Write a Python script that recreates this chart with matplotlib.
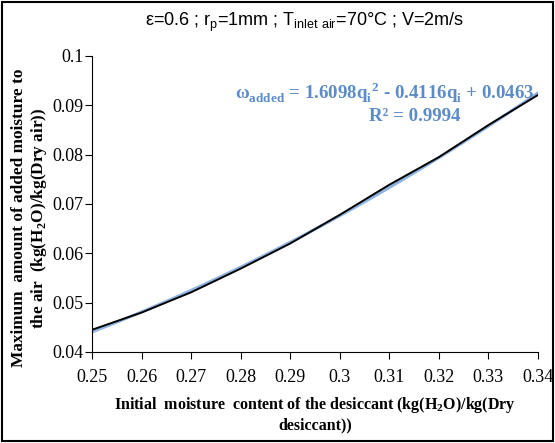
import numpy as np
import matplotlib.pyplot as plt
from matplotlib.patches import Rectangle

# initial moisture content vs max added moisture
q_i = [0.25, 0.26, 0.27, 0.28, 0.29, 0.30, 0.31, 0.32, 0.33, 0.34]
w_added = [0.0445, 0.0480, 0.0521, 0.0569, 0.0620, 0.0678, 0.0739, 0.0795, 0.0860, 0.0921]

xticks = [0.25, 0.26, 0.27, 0.28, 0.29, 0.3, 0.31, 0.32, 0.33, 0.34]
yticks = [0.04, 0.05, 0.06, 0.07, 0.08, 0.09, 0.1]

fig = plt.figure(figsize=(5.55, 4.43), dpi=100)
ax = fig.add_axes([92 / 555, 1 - 352 / 443, (538 - 92) / 555, (352 - 56) / 443])

# polynomial trendline from the data
coef = np.polyfit(q_i, w_added, 2)
xs = np.linspace(min(q_i), max(q_i), 200)
ax.plot(xs, np.polyval(coef, xs), color='#8db4e2', lw=2.2)
ax.plot(q_i, w_added, color='black', lw=1.4)

ax.set_xlim(0.25, 0.34)
ax.set_ylim(0.04, 0.1)
ax.set_xticks(xticks)
ax.set_xticklabels([f'{v:g}' for v in xticks])
ax.set_yticks(yticks)
ax.set_yticklabels([f'{v:g}' for v in yticks])
for s in ['top', 'right']:
    ax.spines[s].set_visible(False)
ax.tick_params(direction='out', length=5, labelsize=13)
ax.tick_params(axis='x', pad=7)
ax.tick_params(axis='y', pad=1)
for lab in ax.get_xticklabels() + ax.get_yticklabels():
    lab.set_family('Liberation Serif')

ax.set_xlabel('Initial  moisture  content of the desiccant (kg(H$_\\mathregular{2}$O)/kg(Dry\ndesiccant))',
              family='Liberation Serif', fontweight='bold', fontsize=11.5, labelpad=7)
fig.text(30 / 555, 1 - 218 / 443,
         'Maximum  amount of added moisture to\nthe air  (kg(H$_\\mathregular{2}$O)/kg(Dry air))',
         rotation=90, ha='center', va='center', multialignment='center',
         family='Liberation Serif', fontweight='bold', fontsize=12.4)

fig.text(305 / 555, 1 - 22 / 443,
         r'ε=0.6 ; r$_\mathregular{p}$=1mm ; T$_\mathregular{inlet\ air}$=70°C ; V=2m/s',
         ha='center', va='center', fontsize=13, family='Liberation Sans')

blue = '#5b8bc9'
ax.text(0.657, 0.875, r'ω$_\mathregular{added}$ = 1.6098q$_\mathregular{i}$$^\mathregular{2}$ - 0.4116q$_\mathregular{i}$ + 0.0463',
        transform=ax.transAxes, ha='center', va='center', color=blue,
        fontsize=13.6, fontweight='bold', family='Liberation Serif')
ax.text(0.724, 0.794, 'R² = 0.9994', transform=ax.transAxes, ha='center', va='center',
        color=blue, fontsize=13.6, fontweight='bold', family='Liberation Serif')

fig.patches.append(Rectangle((0.004, 0.004), 0.992, 0.992, transform=fig.transFigure,
                             fill=False, edgecolor='black', lw=1.5))

fig.savefig('out.png', dpi=100)
